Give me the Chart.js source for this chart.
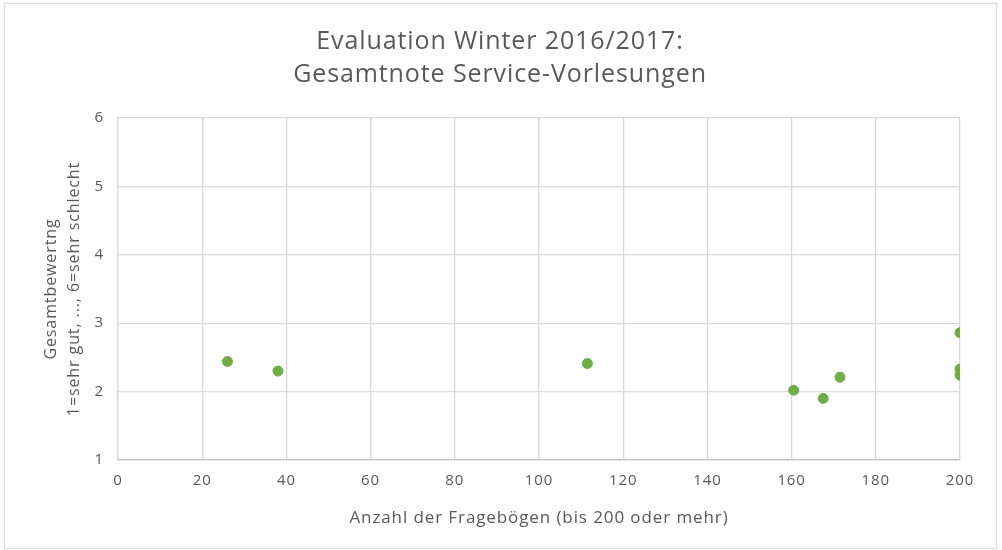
<!DOCTYPE html>
<html>
<head>
<meta charset="utf-8">
<script src="https://cdn.jsdelivr.net/npm/chart.js@4/dist/chart.umd.min.js"></script>
<style>
  html, body { margin: 0; padding: 0; background: #fff; }
  #box { position: relative; width: 1002px; height: 550px; }
</style>
</head>
<body>
<div id="box"><canvas id="chart"></canvas></div>
<script>
// Anzahl Fragebögen (x) und Gesamtnote (y)
const fragebogen = [26, 38, 111.5, 160.5, 167.5, 171.5, 200, 200, 200]
const gesamtnote = [2.44, 2.30, 2.41, 2.02, 1.90, 2.21, 2.86, 2.33, 2.24]
const titleLines = ['Evaluation Winter 2016/2017:', 'Gesamtnote Service-Vorlesungen']
const xTitle = 'Anzahl der Fragebögen (bis 200 oder mehr)'
const yTitle = ['Gesamtbewertng', '1=sehr gut, ..., 6=sehr schlecht']

const points = fragebogen.map((x, i) => ({ x: x, y: gesamtnote[i] }))
const grey = '#595959'
const fontFam = '"Open Sans", Roboto, sans-serif'

// outer chart border like the office chart frame, plus a bit of letter spacing
const frame = {
  id: 'frame',
  beforeLayout(chart) { chart.ctx.letterSpacing = '0.9px' },
  beforeDraw(chart) {
    const ctx = chart.ctx
    ctx.letterSpacing = '0.9px'
    ctx.save()
    ctx.strokeStyle = '#d9d9d9'
    ctx.lineWidth = 1
    ctx.strokeRect(4.5, 3.5, 992, 545)
    ctx.restore()
  }
}

new Chart(document.getElementById('chart'), {
  type: 'scatter',
  data: {
    datasets: [{
      data: points,
      backgroundColor: '#70ad47',
      borderColor: '#70ad47',
      pointRadius: 5,
      pointHoverRadius: 5
    }]
  },
  options: {
    responsive: true,
    maintainAspectRatio: false,
    animation: false,
    layout: { padding: { left: 40, right: 42, top: 0, bottom: 18 } },
    plugins: {
      legend: { display: false },
      tooltip: { enabled: false },
      title: {
        display: true,
        text: titleLines,
        color: grey,
        font: { family: fontFam, size: 25, weight: '400', lineHeight: 1.32 },
        padding: { top: 25, bottom: 27 }
      }
    },
    scales: {
      x: {
        type: 'linear',
        min: 0,
        max: 200,
        ticks: { stepSize: 20, color: grey, font: { family: fontFam, size: 15 }, padding: 12 },
        grid: { color: '#d9d9d9', lineWidth: 1.3, drawTicks: false },
        border: { color: '#bfbfbf', width: 1.3 },
        title: {
          display: true,
          text: xTitle,
          color: grey,
          font: { family: fontFam, size: 17 },
          padding: { top: 0 }
        },
        afterFit(scale) { scale.height = 72 }
      },
      y: {
        type: 'linear',
        min: 1,
        max: 6,
        ticks: { stepSize: 1, color: grey, font: { family: fontFam, size: 15 }, padding: 14 },
        grid: { color: '#d9d9d9', lineWidth: 1.3, drawTicks: false },
        border: { color: '#d9d9d9', width: 1.3 },
        title: {
          display: true,
          text: yTitle,
          color: grey,
          font: { family: fontFam, size: 16, lineHeight: 1.45 },
          padding: { top: 0, bottom: 0 }
        },
        afterFit(scale) { scale.width = 78 }
      }
    }
  },
  plugins: [frame]
})
</script>
</body>
</html>
